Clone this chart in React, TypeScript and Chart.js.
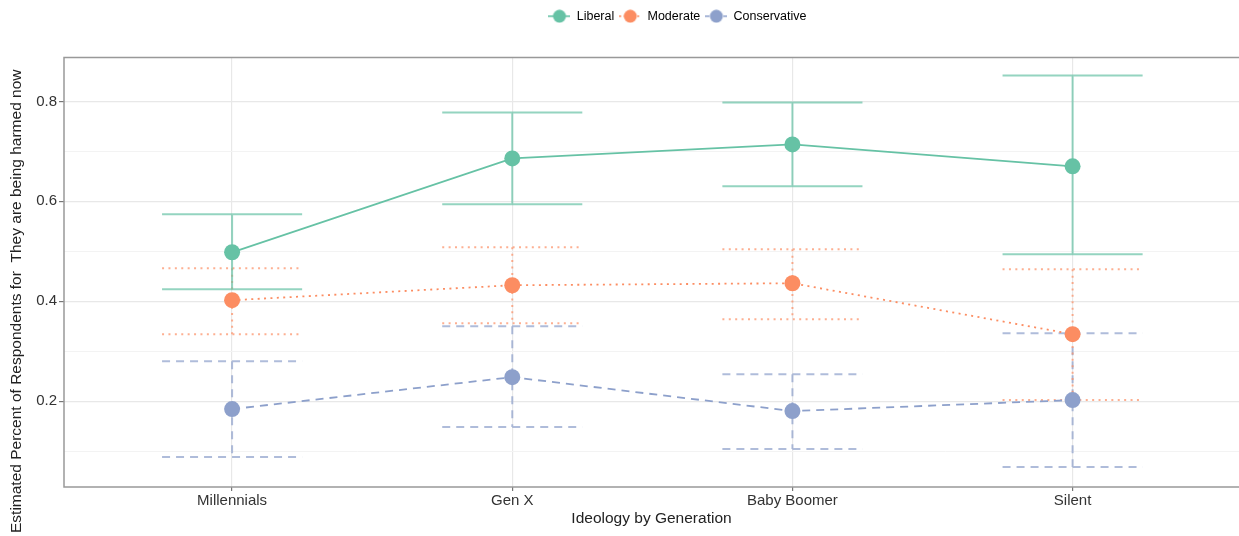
import React, { useEffect, useRef } from 'react';
import { Chart, registerables } from 'chart.js';

Chart.register(...registerables);

// ---------- data ----------
const categories = ['Millennials', 'Gen X', 'Baby Boomer', 'Silent'];
const seriesNames = ['Liberal', 'Moderate', 'Conservative'];

const liberalMean = [0.498, 0.686, 0.714, 0.67];
const liberalUpper = [0.574, 0.778, 0.798, 0.852];
const liberalLower = [0.424, 0.594, 0.63, 0.494];

const moderateMean = [0.402, 0.432, 0.436, 0.334];
const moderateUpper = [0.466, 0.508, 0.504, 0.464];
const moderateLower = [0.334, 0.356, 0.364, 0.202];

const conservativeMean = [0.184, 0.248, 0.18, 0.202];
const conservativeUpper = [0.28, 0.35, 0.254, 0.336];
const conservativeLower = [0.088, 0.148, 0.104, 0.068];

const yTickValues = [0.1, 0.2, 0.3, 0.4, 0.5, 0.6, 0.7, 0.8];
const yMajorTicks = [0.2, 0.4, 0.6, 0.8];

const xTitle = 'Ideology by Generation';
const yTitle = 'Estimated Percent of Respondents for  They are being harmed now';

// ---------- styles ----------
const FONT = '"Liberation Sans", Arial, Helvetica, sans-serif';
const colors = ['#66C2A5', '#FC8D62', '#8DA0CB'];
const errColors = ['rgba(102,194,165,0.7)', 'rgba(252,141,98,0.7)', 'rgba(141,160,203,0.7)'];
const dashes: number[][] = [[], [2, 4.4], [8, 6]];
const capHalf = 0.25;

const means = [liberalMean, moderateMean, conservativeMean];
const uppers = [liberalUpper, moderateUpper, conservativeUpper];
const lowers = [liberalLower, moderateLower, conservativeLower];

function errorBarPoints(up: number[], lo: number[]) {
  const pts: { x: number; y: number | null }[] = [];
  categories.forEach((_, i) => {
    pts.push({ x: i - capHalf, y: up[i] }, { x: i + capHalf, y: up[i] }, { x: i, y: null });
    pts.push({ x: i, y: up[i] }, { x: i, y: lo[i] }, { x: i, y: null });
    pts.push({ x: i - capHalf, y: lo[i] }, { x: i + capHalf, y: lo[i] }, { x: i, y: null });
  });
  return pts;
}

function legendKey(idx: number) {
  const c = document.createElement('canvas');
  c.width = 22;
  c.height = 14;
  const g = c.getContext('2d')!;
  g.strokeStyle = colors[idx];
  g.lineWidth = 1.6;
  g.setLineDash(idx === 1 ? [2, 2.5] : idx === 2 ? [4, 2] : []);
  g.beginPath();
  g.moveTo(0, 7);
  g.lineTo(22, 7);
  g.stroke();
  g.setLineDash([]);
  g.fillStyle = colors[idx];
  g.beginPath();
  g.arc(11, 7, 6.5, 0, Math.PI * 2);
  g.fill();
  return c;
}

const panelBorder = {
  id: 'panelBorder',
  afterDraw(chart: any) {
    const { ctx, chartArea: a } = chart;
    ctx.save();
    ctx.strokeStyle = '#999999';
    ctx.lineWidth = 1.5;
    ctx.beginPath();
    ctx.moveTo(a.right + 2, a.top);
    ctx.lineTo(a.left, a.top);
    ctx.lineTo(a.left, a.bottom);
    ctx.lineTo(a.right + 2, a.bottom);
    ctx.stroke();
    ctx.restore();
  },
};

const yTitlePlugin = {
  id: 'yTitlePlugin',
  afterDraw(chart: any) {
    const { ctx, chartArea: a } = chart;
    ctx.save();
    ctx.translate(17, (a.top + a.bottom) / 2 + 29);
    ctx.rotate(-Math.PI / 2);
    ctx.font = `15.5px ${FONT}`;
    ctx.fillStyle = '#222';
    ctx.textAlign = 'center';
    ctx.textBaseline = 'middle';
    ctx.fillText(yTitle, 0, 0);
    ctx.restore();
  },
};

const legendShift = {
  id: 'legendShift',
  afterLayout(chart: any) {
    const l = chart.legend;
    if (l) {
      l.left += 58;
      l.right += 58;
    }
  },
};

export default function App() {
  const ref = useRef<HTMLCanvasElement>(null);

  useEffect(() => {
    if (!ref.current) return;
    const mainSets = seriesNames.map((name, s) => ({
      label: name,
      data: categories.map((_, i) => ({ x: i, y: means[s][i] })),
      borderColor: colors[s],
      backgroundColor: colors[s],
      borderWidth: 1.8,
      borderDash: dashes[s],
      pointRadius: 8,
      pointHoverRadius: 8,
      pointBorderWidth: 0,
      pointBackgroundColor: colors[s],
      order: 0,
    }));
    const errSets = seriesNames.map((name, s) => ({
      label: name + ' CI',
      data: errorBarPoints(uppers[s], lowers[s]),
      borderColor: errColors[s],
      backgroundColor: errColors[s],
      borderWidth: 2,
      borderDash: dashes[s],
      pointRadius: 0,
      spanGaps: false,
      order: 1,
    }));

    const chart = new Chart(ref.current, {
      type: 'line',
      data: { datasets: [...mainSets, ...errSets] as any },
      plugins: [panelBorder, yTitlePlugin, legendShift],
      options: {
        animation: false,
        responsive: false,
        layout: { autoPadding: false, padding: { top: 5, right: 0, left: 0, bottom: 0 } },
        plugins: {
          tooltip: { enabled: false },
          title: {
            display: true,
            text: '',
            weight: 500,
            font: { size: 1, lineHeight: 1 },
            padding: { top: 0, bottom: 24 },
          } as any,
          legend: {
            position: 'top',
            labels: {
              usePointStyle: true,
              pointStyleWidth: 22,
              padding: 5,
              color: '#222',
              font: { size: 12.5, family: FONT },
              generateLabels: () =>
                seriesNames.map((name, s) => ({
                  text: name,
                  pointStyle: legendKey(s),
                  fillStyle: colors[s],
                  strokeStyle: colors[s],
                  lineWidth: 0,
                  hidden: false,
                  datasetIndex: s,
                })) as any,
            },
          },
        },
        scales: {
          x: {
            type: 'linear',
            min: -0.6,
            max: 3.594,
            afterBuildTicks: (scale: any) => {
              scale.ticks = categories.map((_, i) => ({ value: i }));
            },
            afterFit: (scale: any) => {
              scale.height = 49;
              scale.paddingLeft = 0;
              scale.paddingRight = 0;
            },
            ticks: {
              padding: 1,
              color: '#333',
              font: { size: 15, family: FONT },
              callback: (v: any) => categories[v as number] ?? '',
              maxRotation: 0,
              autoSkip: false,
            },
            grid: {
              color: '#E8E8E8',
              lineWidth: 1.2,
              tickLength: 4,
              tickColor: '#777',
            },
            border: { display: false },
            title: {
              display: true,
              text: xTitle,
              color: '#222',
              font: { size: 15.5, family: FONT },
              padding: { top: 0, bottom: 8 },
            },
          },
          y: {
            type: 'linear',
            min: 0.028,
            max: 0.888,
            afterBuildTicks: (scale: any) => {
              scale.ticks = yTickValues.map((v) => ({ value: v }));
            },
            afterFit: (scale: any) => {
              scale.width = 64;
              scale.paddingTop = 0;
              scale.paddingBottom = 0;
            },
            ticks: {
              padding: 2,
              color: '#333',
              font: { size: 15, family: FONT },
              autoSkip: false,
              callback: (v: any) =>
                yMajorTicks.some((m) => Math.abs(m - (v as number)) < 1e-9) ? (v as number).toFixed(1) : '',
            },
            grid: {
              color: (ctx: any) =>
                yMajorTicks.some((m) => Math.abs(m - ctx.tick?.value) < 1e-9) ? '#E8E8E8' : '#F3F3F3',
              lineWidth: (ctx: any) =>
                yMajorTicks.some((m) => Math.abs(m - ctx.tick?.value) < 1e-9) ? 1.2 : 1,
              tickLength: 5,
              tickColor: (ctx: any) =>
                yMajorTicks.some((m) => Math.abs(m - ctx.tick?.value) < 1e-9) ? '#777' : 'rgba(0,0,0,0)',
            },
            border: { display: false },
            title: { display: false },
          },
        },
      },
    });
    return () => chart.destroy();
  }, []);

  return (
    <div style={{ position: 'absolute', left: 0, top: 0, width: 1239, height: 536, background: '#fff' }}>
      <canvas ref={ref} width={1239} height={536} />
    </div>
  );
}
